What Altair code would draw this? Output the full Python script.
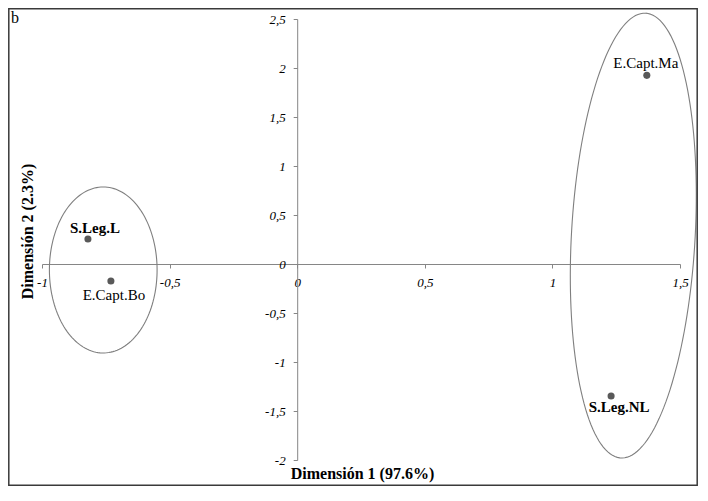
import altair as alt
import pandas as pd

# ---- data ----
labels = ["S.Leg.L", "E.Capt.Bo", "E.Capt.Ma", "S.Leg.NL"]
dim1 = [-0.82, -0.73, 1.37, 1.23]
dim2 = [0.255, -0.173, 1.925, -1.347]
bold = [True, False, False, True]

x_ticks = [-1, -0.5, 0, 0.5, 1, 1.5]
y_ticks = [-2, -1.5, -1, -0.5, 0, 0.5, 1, 1.5, 2, 2.5]

# group ellipses: centre, semi-axis vector u, semi-axis vector v (data units)
ell_cx = [-0.76, 1.317]
ell_cy = [-0.061, 0.29]
ell_ux = [0.0, 0.0486]
ell_uy = [0.847, 2.269]
ell_vx = [0.211, 0.242]
ell_vy = [0.0, -0.0352]

# ---- styling ----
label_offsets = {"S.Leg.L": (7, -11), "E.Capt.Bo": (3, 14),
                 "E.Capt.Ma": (-1, -12), "S.Leg.NL": (8, 11)}
FONT = "Liberation Serif"
GREY = "#868686"
W, H = 638, 441
PAD = {"left": 34, "top": 11, "right": 18, "bottom": 26}

df = pd.DataFrame({"label": labels, "d1": dim1, "d2": dim2, "bold": bold})

xscale = alt.Scale(domain=[-1, 1.5], nice=False, zero=False)
yscale = alt.Scale(domain=[-2, 2.5], nice=False, zero=False)
lab_expr = "replace(toString(datum.value), '.', ',')"

x_axis = alt.Axis(values=x_ticks, offset=-196, labelExpr=lab_expr, grid=False,
                  title="Dimensión 1 (97.6%)", titleX=320, titleY=214,
                  titleBaseline="alphabetic", labelPadding=8)
y_axis = alt.Axis(values=y_ticks, offset=-255.2, labelExpr=lab_expr, grid=False,
                  title="Dimensión 2 (2.3%)", titleX=-265, titleY=212,
                  titleAngle=270, titleAlign="center",
                  titleBaseline="alphabetic", labelPadding=8)

points = alt.Chart(df).mark_circle(size=50, color="#595959", opacity=1).encode(
    x=alt.X("d1:Q", scale=xscale, axis=x_axis),
    y=alt.Y("d2:Q", scale=yscale, axis=y_axis),
)

layers = []
for i in range(len(ell_cx)):
    ell = alt.Chart(alt.sequence(0, 6.40, 0.04, as_="t")).transform_calculate(
        ex=f"{ell_cx[i]} + {ell_ux[i]}*cos(datum.t) + {ell_vx[i]}*sin(datum.t)",
        ey=f"{ell_cy[i]} + {ell_uy[i]}*cos(datum.t) + {ell_vy[i]}*sin(datum.t)",
    ).mark_line(color="#7f7f7f", strokeWidth=1.1).encode(
        x=alt.X("ex:Q", scale=xscale),
        y=alt.Y("ey:Q", scale=yscale),
        order="t:Q",
    )
    layers.append(ell)

texts = []
for lab in labels:
    dx, dy = label_offsets[lab]
    is_bold = bool(df.loc[df.label == lab, "bold"].iloc[0])
    t = alt.Chart(df).transform_filter(alt.datum.label == lab).mark_text(
        font=FONT, fontSize=15, fontWeight="bold" if is_bold else "normal",
        color="#000000", dx=dx, dy=dy, baseline="middle", align="center",
    ).encode(
        x=alt.X("d1:Q", scale=xscale),
        y=alt.Y("d2:Q", scale=yscale),
        text="label:N",
    )
    texts.append(t)

one = pd.DataFrame({"k": [0]})
border = alt.Chart(one).mark_rect(filled=False, stroke="#3a3a3a", strokeWidth=1.5).encode(
    x=alt.value(-33.2), x2=alt.value(W + PAD["right"] - 0.8),
    y=alt.value(-10.2), y2=alt.value(H + PAD["bottom"] - 0.8),
)
panel_letter = alt.Chart(one).mark_text(
    font=FONT, fontSize=16, align="left", baseline="alphabetic", color="#000"
).encode(x=alt.value(-31), y=alt.value(4), text=alt.value("b"))

chart = alt.layer(points, *layers, *texts, border, panel_letter).properties(
    width=W, height=H,
    autosize=alt.AutoSizeParams(type="none"),
    padding=PAD,
    background="white",
).configure_view(stroke=None).configure_axis(
    grid=False, domainColor=GREY, tickColor=GREY, tickSize=4,
    labelFont=FONT, labelFontStyle="italic", labelFontSize=13, labelColor="#000",
    titleFont=FONT, titleFontSize=16, titleFontWeight="bold", titleColor="#000",
    labelOverlap=False, labelFlush=False,
)

chart.save("out.html", embed_options={"renderer": "svg", "actions": False})
